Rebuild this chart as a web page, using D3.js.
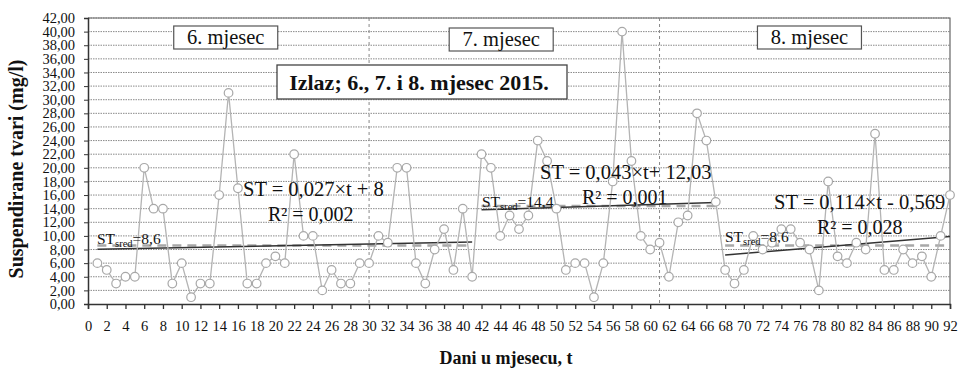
<!DOCTYPE html>
<html>
<head>
<meta charset="utf-8">
<script src="https://cdn.jsdelivr.net/npm/d3@7"></script>
</head>
<body style="margin:0;background:#fff">
<svg id="chart" width="963" height="372" style="display:block"></svg>
<script>
// Daily suspended solids at the outlet, June–August 2015 (t = day index)
const days = d3.range(1, 93);
const values = [
  6, 5, 3, 4, 4, 20, 14, 14, 3, 6, 1, 3, 3, 16, 31, 17, 3, 3, 6, 7, 6, 22, 10, 10, 2, 5, 3, 3, 6, 6,
  10, 9, 20, 20, 6, 3, 8, 11, 5, 14, 4, 22, 20, 10, 13, 11, 13, 24, 21, 14, 5, 6, 6, 1, 6, 18, 40, 21, 10, 8, 9,
  4, 12, 13, 28, 24, 15, 5, 3, 5, 10, 8, 9, 11, 11, 9, 8, 2, 18, 7, 6, 9, 8, 25, 5, 5, 8, 6, 7, 4, 10, 16
];
const yTicks = d3.range(0, 43, 2);
const xTicks = d3.range(0, 93, 2);
const monthDividers = [30, 61];
const monthLabels = ["6. mjesec", "7. mjesec", "8. mjesec"];
const monthLabelCenters = [14.7, 44.1, 77];
// Linear trends and means per segment
const trendStart = [1, 42, 68];
const trendEnd = [41, 67, 92];
const trendSlope = [0.027, 0.043, 0.114];
const trendIntercept = [8, 12.03, -0.569];
const segmentMean = [8.6, 14.4, 8.6];
const eqLabels = ["ST = 0,027×t + 8", "ST = 0,043×t+ 12,03", "ST = 0,114×t - 0,569"];
const r2Labels = ["R² = 0,002", "R² = 0,001", "R² = 0,028"];
const meanLabels = ["8,6", "14,4", "8,6"];

const FONT = '"Liberation Serif"';
const svg = d3.select("#chart");
const margin = { left: 88, right: 13, top: 18, bottom: 68 };
const W = 963, H = 372;
const x = d3.scaleLinear().domain([0, 92]).range([margin.left, W - margin.right]);
const y = d3.scaleLinear().domain([0, 42]).range([H - margin.bottom, margin.top]);

// horizontal grid
svg.append("g").selectAll("line").data(yTicks.filter(v => v > 0)).join("line")
  .attr("x1", x(0)).attr("x2", x(92))
  .attr("y1", d => y(d)).attr("y2", d => y(d))
  .attr("stroke", "#8a8a8a").attr("stroke-width", 1).attr("stroke-dasharray", "1.5,1");

// plot frame (top and right)
svg.append("path")
  .attr("d", `M${x(0)},${y(42)}H${x(92)}V${y(0)}`)
  .attr("fill", "none").attr("stroke", "#666").attr("stroke-width", 1.2);

// month dividers
svg.append("g").selectAll("line").data(monthDividers).join("line")
  .attr("x1", d => x(d)).attr("x2", d => x(d))
  .attr("y1", y(42)).attr("y2", y(0))
  .attr("stroke", "#888").attr("stroke-width", 1).attr("stroke-dasharray", "3,3");

// axes
const yAxis = d3.axisLeft(y).tickValues(yTicks).tickSize(4).tickPadding(9)
  .tickFormat(d => d3.format(".2f")(d).replace(".", ","));
const gy = svg.append("g").attr("transform", `translate(${x(0)},0)`).call(yAxis);
gy.style("font-family", FONT);
gy.selectAll("text").attr("font-size", 14.5).attr("fill", "#111");
gy.select(".domain").attr("stroke", "#333").attr("stroke-width", 1.5);
gy.selectAll(".tick line").attr("stroke", "#333");

const xAxis = d3.axisBottom(x).tickValues(xTicks).tickSize(5).tickPadding(12)
  .tickFormat(d3.format("d"));
const gx = svg.append("g").attr("transform", `translate(0,${y(0)})`).call(xAxis);
gx.style("font-family", FONT);
gx.selectAll("text").attr("font-size", 14.5).attr("fill", "#111");
gx.select(".domain").attr("stroke", "#333").attr("stroke-width", 1.5);
gx.selectAll(".tick line").attr("stroke", "#333").attr("stroke-width", 1.3);

// mean lines (dashed) and trend lines
const segs = d3.range(3);
svg.append("g").selectAll("line").data(segs).join("line")
  .attr("x1", i => x(trendStart[i])).attr("x2", i => x(trendEnd[i]))
  .attr("y1", i => y(segmentMean[i])).attr("y2", i => y(segmentMean[i]))
  .attr("stroke", "#a8a8a8").attr("stroke-width", 2.5).attr("stroke-dasharray", "9,6");
svg.append("g").selectAll("line").data(segs).join("line")
  .attr("x1", i => x(trendStart[i])).attr("x2", i => x(trendEnd[i]))
  .attr("y1", i => y(trendSlope[i] * trendStart[i] + trendIntercept[i]))
  .attr("y2", i => y(trendSlope[i] * trendEnd[i] + trendIntercept[i]))
  .attr("stroke", "#333").attr("stroke-width", 1.5);

// data series
const pts = days.map((t, i) => [t, values[i]]);
svg.append("path").datum(pts)
  .attr("d", d3.line().x(d => x(d[0])).y(d => y(d[1])))
  .attr("fill", "none").attr("stroke", "#b4b4b4").attr("stroke-width", 1.3);
svg.append("g").selectAll("circle").data(pts).join("circle")
  .attr("cx", d => x(d[0])).attr("cy", d => y(d[1])).attr("r", 4.3)
  .attr("fill", "#fff").attr("stroke", "#a8a8a8").attr("stroke-width", 1.2);

// equation labels
const eqPos = [[243, 196], [540, 179], [774, 209]];
const r2Pos = [[268, 221], [582, 204], [817, 234]];
const meanPos = [[97, 244], [482, 207], [725, 242]];
segs.forEach(i => {
  svg.append("text").attr("x", eqPos[i][0]).attr("y", eqPos[i][1])
    .attr("font-size", 20.5).attr("fill", "#111").style("font-family", FONT).text(eqLabels[i]);
  svg.append("text").attr("x", r2Pos[i][0]).attr("y", r2Pos[i][1])
    .attr("font-size", 20).attr("fill", "#111").style("font-family", FONT).text(r2Labels[i]);
  const mt = svg.append("text").attr("x", meanPos[i][0]).attr("y", meanPos[i][1])
    .attr("font-size", 15.5).attr("fill", "#111").style("font-family", FONT);
  mt.append("tspan").text("ST");
  mt.append("tspan").attr("font-size", 10.5).attr("dy", 3).text("sred");
  mt.append("tspan").attr("dy", -3).text("=" + meanLabels[i]);
});

// month boxes
const monthBox = svg.append("g");
monthLabels.forEach((lab, i) => {
  const cx = x(monthLabelCenters[i]);
  const yTop = i === 1 ? 28 : 26;
  monthBox.append("rect").attr("x", cx - 52).attr("y", yTop).attr("width", 104).attr("height", 23)
    .attr("fill", "#fff").attr("stroke", "#555").attr("stroke-width", 1.2);
  monthBox.append("text").attr("x", cx).attr("y", yTop + 18).attr("text-anchor", "middle")
    .attr("font-size", 20.5).attr("fill", "#111").style("font-family", FONT).text(lab);
});

// title box
svg.append("rect").attr("x", 277).attr("y", 65).attr("width", 290).attr("height", 34)
  .attr("fill", "#fff").attr("stroke", "#444").attr("stroke-width", 1.3);
svg.append("text").attr("x", 419).attr("y", 90).attr("text-anchor", "middle")
  .attr("font-size", 22).attr("font-weight", "bold").attr("fill", "#111")
  .style("font-family", FONT).text("Izlaz; 6., 7. i 8. mjesec 2015.");

// axis titles
svg.append("text").attr("transform", `translate(23,${(y(0) + y(42)) / 2 + 8}) rotate(-90)`)
  .attr("text-anchor", "middle").attr("font-size", 20).attr("font-weight", "bold")
  .attr("fill", "#111").style("font-family", FONT).text("Suspendirane tvari (mg/l)");
svg.append("text").attr("x", 506).attr("y", 364).attr("text-anchor", "middle")
  .attr("font-size", 18).attr("font-weight", "bold").attr("fill", "#111")
  .style("font-family", FONT).text("Dani u mjesecu, t");
</script>
</body>
</html>
